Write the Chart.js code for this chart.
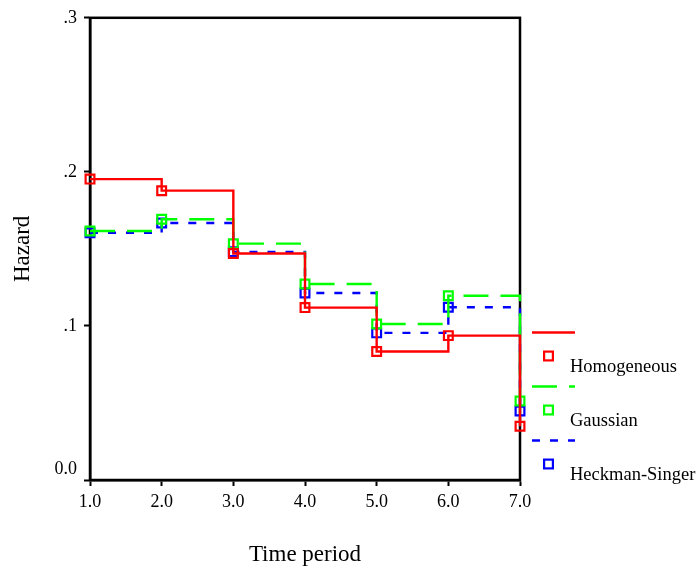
<!DOCTYPE html>
<html><head><meta charset="utf-8">
<script src="https://cdn.jsdelivr.net/npm/chart.js@4"></script>
<style>html,body{margin:0;padding:0;background:#fff;} canvas{display:block;}</style>
</head><body>
<canvas id="c" width="699" height="569"></canvas>
<script>
const timePeriods = [1, 2, 3, 4, 5, 6, 7];
const xTickLabels = ['1.0', '2.0', '3.0', '4.0', '5.0', '6.0', '7.0'];
const yTickLabels = ['0.0', '.1', '.2', '.3'];
const seriesNames = ['Homogeneous', 'Gaussian', 'Heckman-Singer'];
const homogeneous = [0.1953, 0.1878, 0.1470, 0.1119, 0.0834, 0.0937, 0.0349];
const gaussian = [0.1616, 0.1692, 0.1534, 0.1272, 0.1013, 0.1196, 0.0513];
const heckmanSinger = [0.1605, 0.1668, 0.1481, 0.1214, 0.0955, 0.1121, 0.0448];

const FONT = '"Liberation Serif", "Times New Roman", serif';

function toPoints(vals) {
  return timePeriods.map((t, i) => ({ x: t, y: vals[i] }));
}

function mkDataset(label, vals, color, dash) {
  return {
    label: label,
    data: toPoints(vals),
    borderColor: color,
    borderWidth: 2.4,
    borderDash: dash,
    stepped: true,
    fill: false,
    pointStyle: 'rect',
    pointRadius: 6.2,
    pointHoverRadius: 6.2,
    pointBorderWidth: 2.2,
    pointBorderColor: color,
    pointBackgroundColor: 'rgba(0,0,0,0)',
    clip: false
  };
}

const framePlugin = {
  id: 'frame',
  beforeDatasetsDraw(chart) {
    const a = chart.chartArea, ctx = chart.ctx;
    ctx.save();
    ctx.strokeStyle = '#000';
    ctx.lineWidth = 2.5;
    ctx.strokeRect(a.left, a.top, a.right - a.left, a.bottom - a.top);
    ctx.restore();
  }
};

const sideLegend = {
  id: 'sideLegend',
  afterDraw(chart) {
    const ctx = chart.ctx;
    chart.data.datasets.forEach((ds, i) => {
      const dy = i * 54;
      ctx.save();
      ctx.strokeStyle = ds.borderColor;
      ctx.lineWidth = 2.4;
      ctx.setLineDash(ds.borderDash || []);
      ctx.beginPath();
      ctx.moveTo(532, 332.5 + dy);
      ctx.lineTo(575, 332.5 + dy);
      ctx.stroke();
      ctx.setLineDash([]);
      ctx.lineWidth = 2.2;
      const s = 4.4;
      ctx.strokeRect(548.5 - s, 356 + dy - s, 2 * s, 2 * s);
      ctx.fillStyle = '#000';
      ctx.font = '18.5px ' + FONT;
      ctx.textBaseline = 'alphabetic';
      ctx.textAlign = 'left';
      ctx.fillText(ds.label, 570, 371.5 + dy);
      ctx.restore();
    });
  }
};

new Chart(document.getElementById('c'), {
  type: 'line',
  data: {
    datasets: [
      mkDataset(seriesNames[0], homogeneous, '#ff0000', []),
      mkDataset(seriesNames[1], gaussian, '#00ff00', [25, 12]),
      mkDataset(seriesNames[2], heckmanSinger, '#0000ff', [8, 10])
    ]
  },
  options: {
    responsive: false,
    animation: false,
    events: [],
    layout: { padding: { left: 0, top: 16, right: 179, bottom: 0 } },
    plugins: { legend: { display: false }, tooltip: { enabled: false } },
    scales: {
      x: {
        type: 'linear',
        min: 1, max: 7,
        border: { display: true, color: '#000', width: 2.5 },
        grid: { display: true, drawOnChartArea: false, drawTicks: true, tickLength: 6, tickColor: '#000', tickWidth: 2 },
        ticks: {
          stepSize: 1,
          padding: 5,
          color: '#000',
          font: { family: FONT, size: 18 },
          maxRotation: 0,
          autoSkip: false,
          callback: (v) => xTickLabels[timePeriods.indexOf(v)] ?? ''
        },
        title: { display: true, text: 'Time period', color: '#000', font: { family: FONT, size: 23 }, padding: { top: 0, bottom: 0 } },
        afterFit: (s) => { s.height = 89; }
      },
      y: {
        type: 'linear',
        min: 0, max: 0.3,
        border: { display: true, color: '#000', width: 2.5 },
        grid: { display: true, drawOnChartArea: false, drawTicks: true, tickLength: 6, tickColor: '#000', tickWidth: 2 },
        ticks: {
          stepSize: 0.1,
          padding: 7,
          color: '#000',
          font: { family: FONT, size: 18 },
          autoSkip: false,
          callback: (v) => {
            const k = Math.round(v * 10);
            const lab = yTickLabels[k] ?? '';
            return k === 0 ? [lab, ''] : lab;
          }
        },
        title: { display: true, text: 'Hazard', color: '#000', font: { family: FONT, size: 23 }, padding: { top: 9, bottom: 0 } },
        afterFit: (s) => { s.width = 90; }
      }
    }
  },
  plugins: [framePlugin, sideLegend]
});
</script>
</body></html>
